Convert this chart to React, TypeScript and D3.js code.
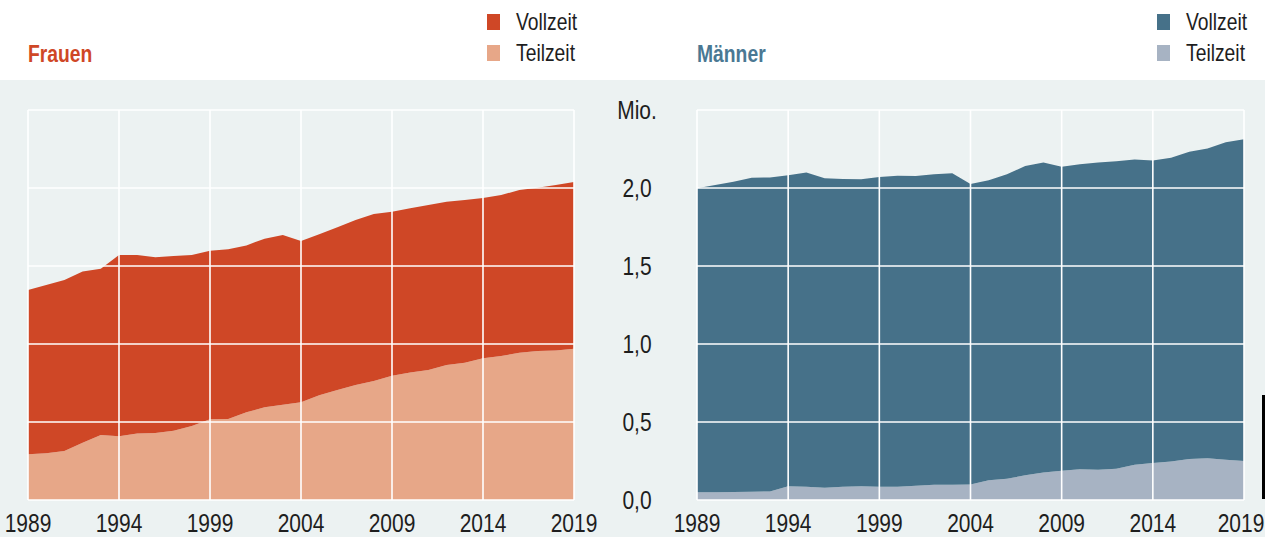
import * as d3 from "d3";

const years = [
  1989, 1990, 1991, 1992, 1993, 1994, 1995, 1996, 1997, 1998, 1999, 2000, 2001, 2002, 2003, 2004,
  2005, 2006, 2007, 2008, 2009, 2010, 2011, 2012, 2013, 2014, 2015, 2016, 2017, 2018, 2019,
];

// Mio. Erwerbstätige
const frauenTeilzeit = [
  0.293, 0.299, 0.314, 0.367, 0.417, 0.408, 0.427, 0.429, 0.444, 0.474, 0.517, 0.519, 0.562, 0.594,
  0.611, 0.626, 0.671, 0.705, 0.737, 0.763, 0.797, 0.818, 0.833, 0.865, 0.88, 0.908, 0.923, 0.944,
  0.955, 0.959, 0.97,
];
const frauenVollzeit = [
  1.053, 1.079, 1.096, 1.097, 1.066, 1.163, 1.144, 1.127, 1.12, 1.097, 1.081, 1.088, 1.07, 1.081,
  1.088, 1.034, 1.032, 1.043, 1.058, 1.07, 1.051, 1.052, 1.058, 1.047, 1.043, 1.028, 1.032, 1.043,
  1.047, 1.06, 1.068,
];
const maennerTeilzeit = [
  0.049, 0.049, 0.051, 0.053, 0.055, 0.088, 0.085, 0.079, 0.085, 0.088, 0.085, 0.085, 0.092, 0.098,
  0.098, 0.1, 0.126, 0.137, 0.158, 0.177, 0.188, 0.197, 0.194, 0.201, 0.226, 0.237, 0.246, 0.263,
  0.267, 0.258, 0.25,
];
const maennerVollzeit = [
  1.949, 1.97, 1.989, 2.013, 2.013, 1.993, 2.015, 1.983, 1.973, 1.968, 1.986, 1.994, 1.985, 1.99,
  1.996, 1.926, 1.923, 1.951, 1.983, 1.987, 1.949, 1.955, 1.97, 1.97, 1.956, 1.94, 1.948, 1.97,
  1.987, 2.035, 2.062,
];

const yearTicks = [1989, 1994, 1999, 2004, 2009, 2014, 2019];
const valueTicks = [0, 0.5, 1, 1.5, 2, 2.5];
const valueLabels = ["0,0", "0,5", "1,0", "1,5", "2,0", "Mio."];
const legendLabels = ["Vollzeit", "Teilzeit"];

const W = 1265;
const H = 537;
const FONT = "'Liberation Sans', Arial, sans-serif";
const BG = "#ecf2f2";
const TEXT = "#1e1e1e";
const SX = 0.84; // squeeze to imitate the condensed face

const y = d3.scaleLinear().domain([0, 2.5]).range([500, 110]);

// condensed text: squeeze horizontally around the anchor point
function CText(props: {
  x: number;
  y: number;
  size: number;
  anchor?: string;
  fill?: string;
  bold?: boolean;
  children: any;
}) {
  return (
    <text
      transform={`translate(${props.x},${props.y}) scale(${SX},1)`}
      textAnchor={props.anchor || "start"}
      fill={props.fill || TEXT}
      fontFamily={FONT}
      fontWeight={props.bold ? "bold" : "normal"}
      fontSize={props.size}
    >
      {props.children}
    </text>
  );
}

type PanelProps = {
  title: string;
  titleColor: string;
  vollzeit: number[];
  teilzeit: number[];
  colors: [string, string]; // vollzeit, teilzeit
  left: number;
  right: number;
  legendX: number;
};

function Panel(p: PanelProps) {
  const x = d3.scaleLinear().domain([1989, 2019]).range([p.left, p.right]);

  const rows = years.map((yr, i) => ({ year: yr, teilzeit: p.teilzeit[i], vollzeit: p.vollzeit[i] }));
  const series = d3.stack<any>().keys(["teilzeit", "vollzeit"])(rows);

  const area = d3
    .area<any>()
    .x((d) => x(d.data.year))
    .y0((d) => y(d[0]))
    .y1((d) => y(d[1]));

  const fill = (key: string) => (key === "vollzeit" ? p.colors[0] : p.colors[1]);

  return (
    <g>
      <CText x={p.left} y={62} size={23} bold fill={p.titleColor}>
        {p.title}
      </CText>

      {legendLabels.map((lab, i) => (
        <g key={lab} transform={`translate(${p.legendX},${14 + i * 31})`}>
          <rect width={13} height={16} fill={p.colors[i]} />
          <CText x={29} y={16} size={23}>
            {lab}
          </CText>
        </g>
      ))}

      {series.map((s) => (
        <path key={s.key} d={area(s) || ""} fill={fill(s.key)} />
      ))}

      {/* gridlines over the areas */}
      {valueTicks.map((v) => (
        <line key={"h" + v} x1={p.left} x2={p.right} y1={y(v)} y2={y(v)} stroke="#fff" strokeWidth={1.6} />
      ))}
      {yearTicks.map((yr) => (
        <line key={"v" + yr} x1={x(yr)} x2={x(yr)} y1={y(2.5)} y2={y(0)} stroke="#fff" strokeWidth={1.6} />
      ))}

      {yearTicks.map((yr) => (
        <CText key={"t" + yr} x={Math.min(x(yr), W - 24)} y={532} size={25} anchor="middle">
          {yr}
        </CText>
      ))}
    </g>
  );
}

export default function App() {
  return (
    <div style={{ position: "absolute", left: 0, top: 0 }}>
      <svg width={W} height={H} style={{ display: "block" }}>
        <rect x={0} y={0} width={W} height={H} fill="#fff" />
        <rect x={0} y={80} width={W} height={H - 80} fill={BG} />

        <Panel
          title="Frauen"
          titleColor="#cf4726"
          vollzeit={frauenVollzeit}
          teilzeit={frauenTeilzeit}
          colors={["#cf4726", "#e7a788"]}
          left={28}
          right={574}
          legendX={487}
        />
        <Panel
          title="Männer"
          titleColor="#4a7893"
          vollzeit={maennerVollzeit}
          teilzeit={maennerTeilzeit}
          colors={["#467189", "#a7b3c3"]}
          left={697}
          right={1244}
          legendX={1157}
        />

        {valueTicks.map((v, i) => (
          <CText key={"y" + v} x={637} y={y(v) + 9} size={25} anchor="middle">
            {valueLabels[i]}
          </CText>
        ))}

        <rect x={1262} y={395} width={3} height={104} fill="#000" />
      </svg>
    </div>
  );
}
